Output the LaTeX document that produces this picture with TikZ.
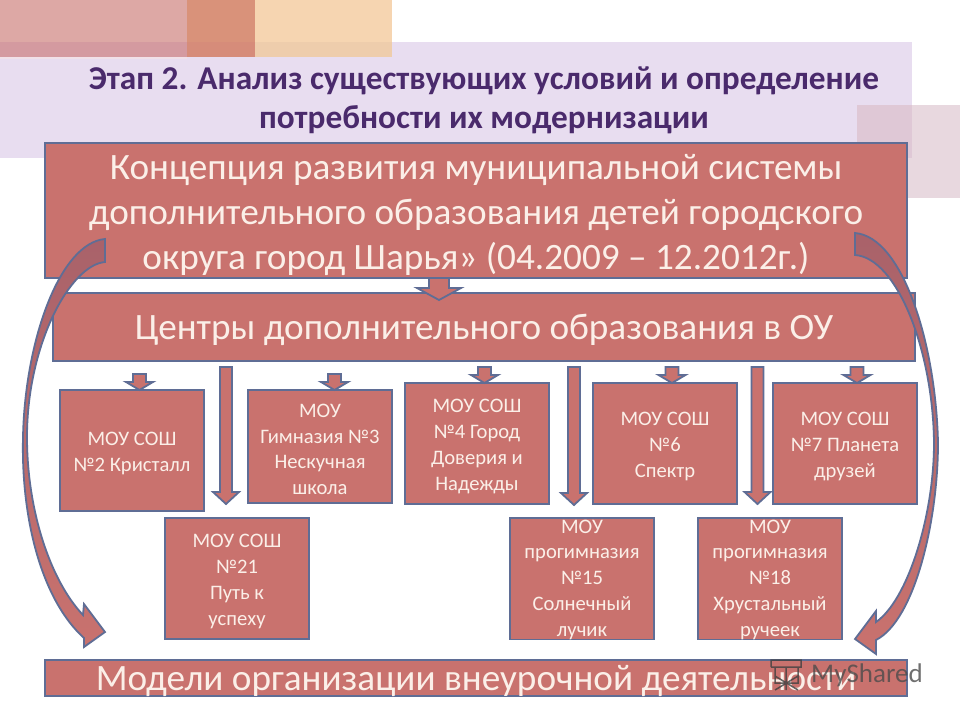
\documentclass[tikz,border=0pt]{standalone}
\usepackage{fontspec}
\setmainfont{Carlito}
\usetikzlibrary{positioning,calc}
\definecolor{rosefill}{HTML}{C9726E}
\definecolor{rosedark}{HTML}{A9626A}
\definecolor{slateline}{HTML}{5F6D95}
\definecolor{creamtext}{HTML}{FBEFE8}
\definecolor{titleink}{HTML}{4A2A6C}
\newcommand{\lift}[1]{\rule{0pt}{#1}}
\newcommand{\blockdown}[5]{%
  \draw[arrowbody] let \p1=(#1), \p2=(#2) in
    (\x1-#3,\y1) -- (\x1+#3,\y1) -- (\x1+#3,\y2+#5) -- (\x1+#3+#4,\y2+#5)
    -- (\x1,\y2) -- (\x1-#3-#4,\y2+#5) -- (\x1-#3,\y2+#5) -- cycle;}
\begin{document}
\begin{tikzpicture}[x=1pt,y=-1pt]
        \tikzstyle{every node}=[font=\fontsize{20.6}{25.8}\selectfont,text=creamtext,align=center,inner sep=0pt]
        \tikzstyle{box}=[rectangle,fill=rosefill,draw=slateline,line width=1.8pt,outer sep=0pt,anchor=north west]
        \tikzstyle{bigbox}=[box,minimum width=862pt,font=\fontsize{37.2}{45}\selectfont]
        \tikzstyle{school}=[box,minimum width=144pt,minimum height=121pt]
        \tikzstyle{arrowbody}=[fill=rosefill,draw=slateline,line width=1.8pt,line join=miter]
        \tikzstyle{bendarrow}=[top color=rosedark,bottom color=rosefill,draw=slateline,line width=1.8pt,line join=miter]
        \useasboundingbox (0,0) rectangle (960,720);
        % background bands
        \fill[white] (0,0) rectangle (960,720);
        \fill[fill={rgb,255:red,232;green,221;blue,240}] (0,42) rectangle (912,158);
        \fill[fill={rgb,255:red,221;green,168;blue,165}] (0,0) rectangle (187,42);
        \fill[fill={rgb,255:red,217;green,146;blue,122}] (187,0) rectangle (255,42);
        \fill[fill={rgb,255:red,246;green,213;blue,177}] (255,0) rectangle (392,42);
        \fill[fill={rgb,255:red,212;green,154;blue,160}] (0,42) rectangle (187,57);
        \fill[fill={rgb,255:red,214;green,140;blue,122}] (187,42) rectangle (255,57);
        \fill[fill={rgb,255:red,238;green,205;blue,172}] (255,42) rectangle (392,57);
        \fill[fill={rgb,255:red,241;green,224;blue,232}] (0,57) rectangle (187,59);
        \fill[fill={rgb,255:red,232;green,216;blue,223}] (857,105) rectangle (960,198);
        \fill[fill={rgb,255:red,223;green,200;blue,214}] (857,105) rectangle (912,158);
        % title
        \node[text=titleink,font=\fontsize{33.3}{39}\selectfont\bfseries] (title) at (484,100.5) {Этап 2. Анализ существующих условий и определение\\потребности их модернизации};
        % main boxes
        \node[bigbox,minimum height=135pt] (concept) at (45,143) {\lift{34pt}Концепция развития муниципальной системы\\дополнительного образования детей городского\\округа город Шарья» (04.2009 – 12.2012г.)};
        \node[bigbox,minimum height=68pt] (centers) at (53,293) {\lift{31pt}Центры дополнительного образования в ОУ};
        \node[school] (sch2) at (60,390) {\lift{19pt}МОУ СОШ\\№2 Кристалл};
        \node[school,minimum height=113pt] (gym3) at (248,390) {\lift{19pt}МОУ\\Гимназия №3\\Нескучная\\школа};
        \node[school] (sch4) at (405,383) {\lift{19pt}МОУ СОШ\\№4 Город\\Доверия и\\Надежды};
        \node[school] (sch6) at (593,383) {\lift{19pt}МОУ СОШ\\№6\\Спектр};
        \node[school] (sch7) at (773,383) {\lift{19pt}МОУ СОШ\\№7 Планета\\друзей};
        \node[school] (sch21) at (165,518) {\lift{19pt}МОУ СОШ\\№21\\Путь к\\успеху};
        \node[school] (pro15) at (510,518) {\lift{15pt}МОУ\\прогимназия\\№15\\Солнечный\\лучик};
        \node[school] (pro18) at (698,518) {\lift{15pt}МОУ\\прогимназия\\№18\\Хрустальный\\ручеек};
        \node[bigbox,minimum height=33pt] (models) at (45,660) {\lift{30pt}Модели организации внеурочной деятельности};
        % block arrows
        \coordinate (a0s) at (439,278); \coordinate (a0e) at (439,300);
        \blockdown{a0s}{a0e}{10pt}{12pt}{12pt}
        \foreach \nm/\xa/\ya/\yb in {a1/139.5/374/390,a2/334.5/374/390,a3/484.5/367/383,a4/672/367/383,a5/857/367/383}{
          \coordinate (\nm s) at (\xa,\ya);
          \coordinate (\nm e) at (\xa,\yb);
          \blockdown{\nm s}{\nm e}{6.5pt}{7pt}{8pt}
        }
        \foreach \nm/\xa/\ya/\yb in {a6/226/367/504,a7/574/367/505,a8/757.5/367/504}{
          \coordinate (\nm s) at (\xa,\ya);
          \coordinate (\nm e) at (\xa,\yb);
          \blockdown{\nm s}{\nm e}{6pt}{7pt}{12pt}
        }
        % curved arrows
        \coordinate (lfrom) at (105,239); \coordinate (lto) at (105,632);
        \coordinate (rfrom) at (855,233); \coordinate (rto) at (855,639);
        \draw[bendarrow] (lfrom) .. controls (60,243) and (25,340) .. (23,437)
          .. controls (21,520) and (42,600) .. (84,638) -- (84,647) -- (lto) -- (84,604) -- (83,615)
          .. controls (50,580) and (27,510) .. (27,437)
          .. controls (27,345) and (70,265) .. (105,262) -- cycle;
        \draw[bendarrow] (rfrom) .. controls (903,237) and (936,345) .. (938,443)
          .. controls (938,520) and (915,620) .. (876,640) -- (876,654) -- (rto) -- (876,611) -- (876,622)
          .. controls (908,600) and (934,515) .. (934,443)
          .. controls (933,350) and (897,258) .. (855,255) -- cycle;
        % watermark
        \node[text=black!70,opacity=.8,font=\fontsize{27}{27}\selectfont,anchor=west] (mark) at (811,675) {MyShared};
        \draw[black!75,line width=1.5pt,opacity=.8] (771,667) -- (771,660) -- (801,660) -- (801,667) -- (771,667)
          (775,667) rectangle (798,683) (786,667) -- (786,690) (775,690) -- (798,676) (775,676) -- (798,690);
\end{tikzpicture}
\end{document}
